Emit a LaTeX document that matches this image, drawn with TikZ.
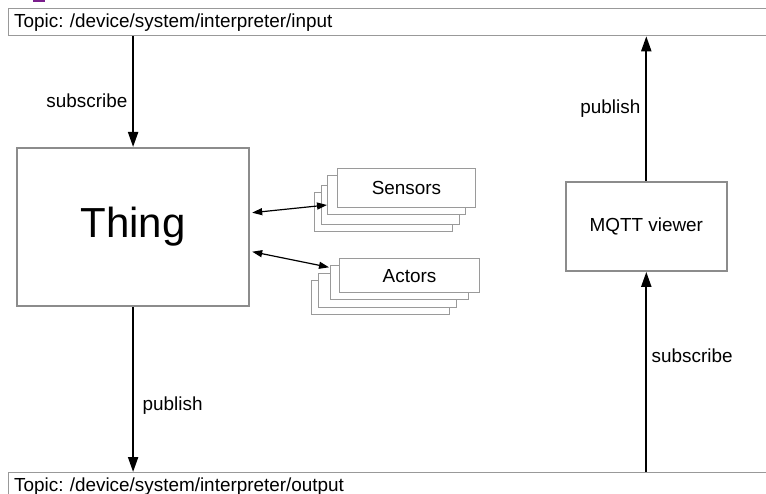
\documentclass[tikz,border=0pt]{standalone}
\usepackage{fontspec}
\setmainfont{Liberation Sans}
\usetikzlibrary{arrows.meta,calc}
\frenchspacing

\definecolor{boxgray}{HTML}{8C8C8C}
\definecolor{topicgray}{HTML}{999999}
\definecolor{stackgray}{HTML}{9A9A9A}
\definecolor{edgepurple}{HTML}{7A1E8C}

\tikzset{
  txt/.style={font=\fontsize{18.9}{22}\selectfont},
  topicbox/.style={draw=topicgray, line width=1.3pt, fill=white, rectangle,
    anchor=north west, minimum width=767pt, minimum height=27pt,
    text width=756pt, inner xsep=5.5pt, inner ysep=0pt, align=left, txt},
  mainbox/.style={draw=boxgray, line width=2.2pt, fill=white, rectangle, anchor=north west},
  stackbox/.style={draw=stackgray, line width=1pt, fill=white, rectangle,
    anchor=north west, minimum width=138pt, inner sep=0pt, txt},
  flow/.style={draw=black, line width=2pt, -{Triangle[length=15pt,width=10pt]}},
  link/.style={draw=black, line width=1.2pt,
    {Triangle[length=10pt,width=7pt]}-{Triangle[length=10pt,width=7pt]}},
  lbl/.style={txt, inner sep=0pt}
}

\begin{document}
\begin{tikzpicture}[x=1pt,y=-1pt]
  \useasboundingbox (0,0) rectangle (766,494);

  % small tab at the upper edge
  \fill[edgepurple] (33,0) rectangle (45,2.2);

  % topic bars
  \node[topicbox] (topin) at (8,8) {Topic: /device/system/interpreter/input};
  \node[topicbox] (topout) at (8,472) {Topic: /device/system/interpreter/output};

  % main components
  \node[mainbox, minimum width=232pt, minimum height=158pt,
        font=\fontsize{42}{48}\selectfont] (thing) at (16,147) {Thing};
  \node[mainbox, minimum width=161pt, minimum height=89pt, txt] (mqtt) at (564.7,180.7) {MQTT viewer};

  % sensor stack, back to front
  \node[stackbox, minimum height=39pt] (s4) at (314,192) {};
  \node[stackbox, minimum height=39pt] (s3) at (321,185) {};
  \node[stackbox, minimum height=39pt] (s2) at (327,175) {};
  \node[stackbox, minimum height=39pt] (s1) at (337,168) {Sensors};

  % actor stack, back to front
  \node[stackbox, minimum height=34.5pt] (a4) at (311,280) {};
  \node[stackbox, minimum height=34.5pt] (a3) at (317.5,273) {};
  \node[stackbox, minimum height=34.5pt] (a2) at (330,265) {};
  \node[stackbox, minimum height=34.5pt, minimum width=140pt] (a1) at (339,258) {Actors};

  % message flow
  \draw[flow] (topin.south -| thing.north) -- (thing.north);
  \draw[flow] (thing.south) -- (thing.south |- topout.north);
  \draw[flow] (mqtt.north) -- (mqtt.north |- topin.south);
  \draw[flow] (mqtt.south |- topout.north) -- (mqtt.south);

  % links to the device stacks
  \draw[link] ($(thing.east |- 0,212.7)+(2,0)$) -- (s2.west |- 0,205);
  \draw[link] ($(thing.east |- 0,251.7)+(2,0)$) -- ($(a2.west |- 0,267.3)+(-1,0)$);

  % labels
  \node[lbl, anchor=east] (l1) at (127.5,101) {subscribe};
  \node[lbl, anchor=west] (l2) at (142.5,406) {publish};
  \node[lbl, anchor=east] (l3) at (640.5,109) {publish};
  \node[lbl, anchor=west] (l4) at (651.5,356) {subscribe};
\end{tikzpicture}
\end{document}
